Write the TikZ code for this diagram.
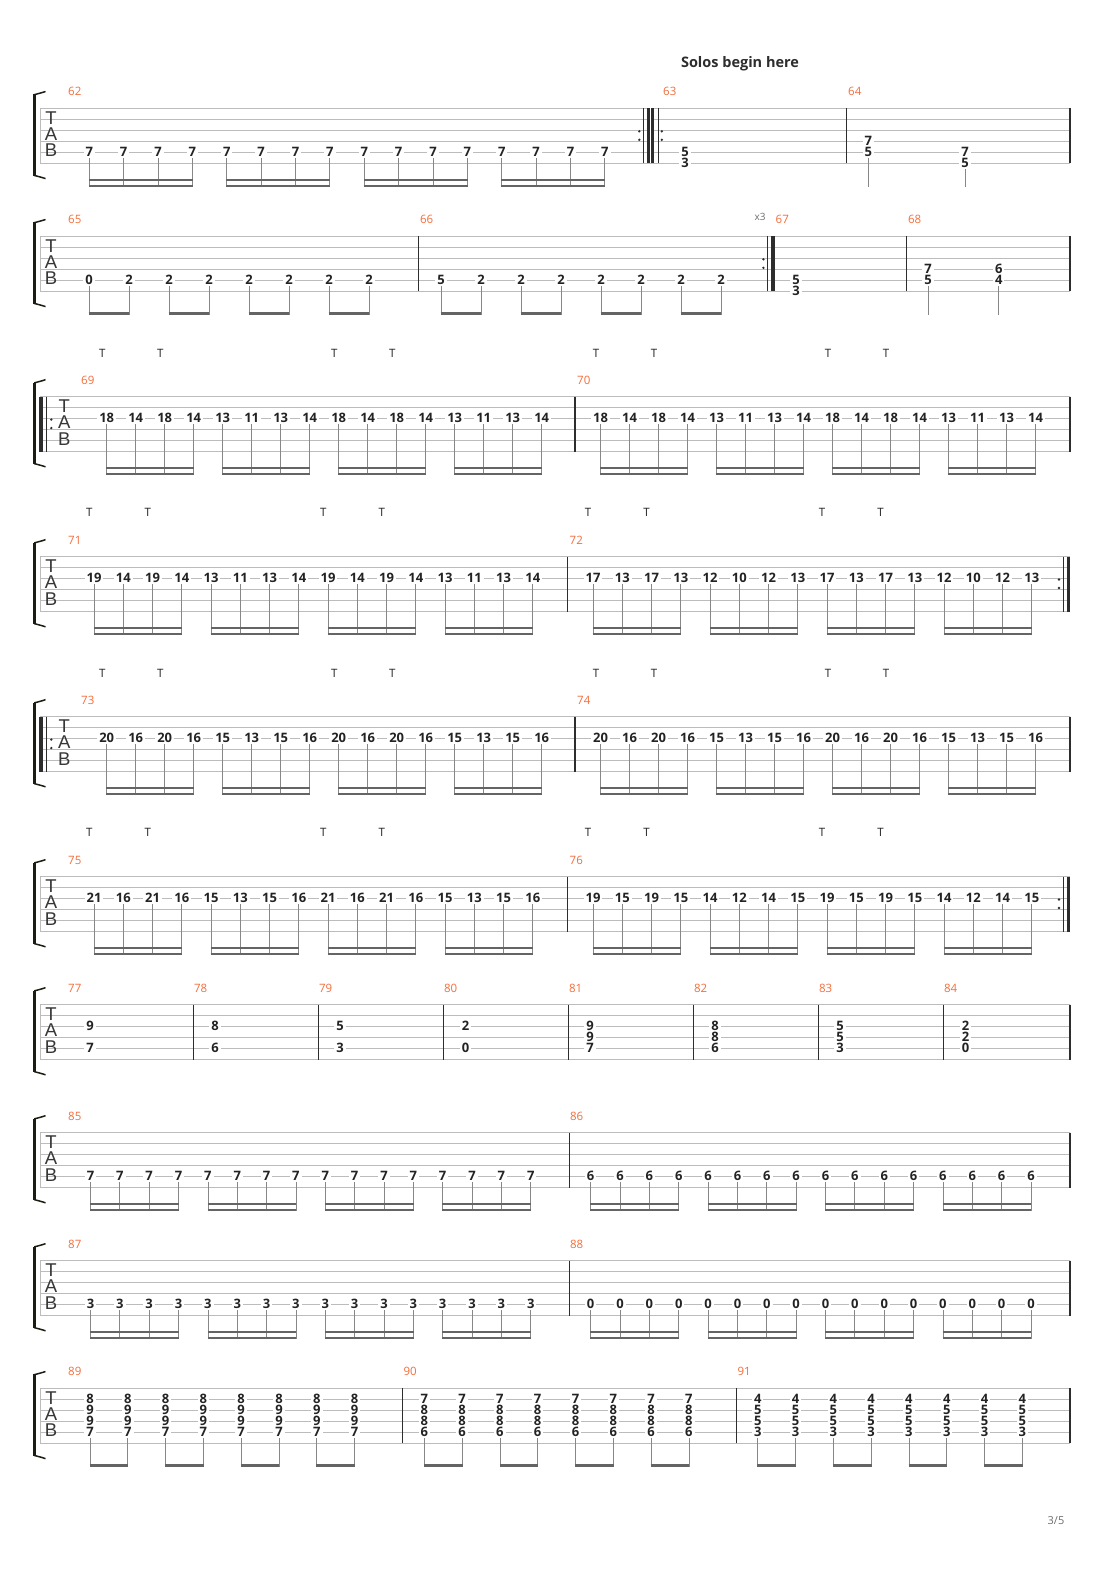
\documentclass[tikz,border=0pt]{standalone}
\usepackage{fontspec}
\setmainfont{Open Sans}
\newfontfamily\tbTabFont{Liberation Sans}
\definecolor{staffcol}{RGB}{188,188,188}
\definecolor{barcol}{RGB}{45,45,45}
\definecolor{stemcol}{RGB}{135,135,135}
\definecolor{beamcol}{RGB}{100,100,100}
\definecolor{fretcol}{RGB}{35,35,35}
\definecolor{numcol}{RGB}{244,110,60}
\definecolor{brkcol}{RGB}{28,28,18}
\definecolor{tabcol}{RGB}{55,55,55}
\definecolor{pgcol}{RGB}{110,110,110}
\tikzset{
  staffline/.style={draw=staffcol, line width=0.9pt},
  barl/.style={draw=barcol, line width=1.1pt},
  thinbar/.style={draw=barcol, line width=0.9pt},
  fret/.style={fill=white, inner xsep=2pt, inner ysep=0pt, text height=9.4pt, text depth=0pt, text=fretcol, font=\fontsize{13}{13}\selectfont\bfseries},
  stemln/.style={draw=stemcol, line width=0.8pt},
  beamln/.style={draw=beamcol, line width=2.4pt},
  mnum/.style={text=numcol, font=\fontsize{11.5}{11.5}\selectfont, inner sep=0pt, anchor=west},
  tabl/.style={text=tabcol, font=\tbTabFont\fontsize{18.5}{18.5}\selectfont, inner sep=0pt},
  tmk/.style={text=fretcol, font=\fontsize{11.5}{11.5}\selectfont, inner sep=0pt},
}
% #1 prefix, #2 top, #3 letter x
\newcommand\tbSystem[3]{%
  \foreach \tbi in {0,...,5}{\draw[staffline] (40,{#2+11*\tbi}) -- (1070,{#2+11*\tbi});}
  \draw[staffline] (40,#2) -- (40,{#2+55});
  \fill[brkcol] (33.4,{#2-14}) rectangle (36.4,{#2+67.5});
  \draw[brkcol, line width=1.5pt] (34.2,{#2-13.6}) .. controls (38,{#2-14.6}) and (42,{#2-15.6}) .. (45.5,{#2-16.8});
  \draw[brkcol, line width=1.5pt] (34.2,{#2+67.1}) .. controls (38,{#2+68.1}) and (42,{#2+69.1}) .. (45.5,{#2+70.3});
  \node[tabl] (#1-T) at (#3,{#2+9.6}) {T};
  \node[tabl] (#1-A) at (#3,{#2+25.8}) {A};
  \node[tabl] (#1-B) at (#3,{#2+42.2}) {B};
}
\newcommand\tbBar[2]{\draw[barl] (#2,#1) -- (#2,{#1+55});}
\newcommand\tbDots[2]{\fill[barcol] (#2,{#1+23}) circle (1.3); \fill[barcol] (#2,{#1+31.5}) circle (1.3);}
\newcommand\tbRepStart[1]{%
  \fill[barcol] (39.3,#1) rectangle (43.3,{#1+55});
  \draw[thinbar] (46.7,#1) -- (46.7,{#1+55});
  \tbDots{#1}{51.3}}
\newcommand\tbRepEnd[2]{%
  \pgfmathsetmacro\tbRa{#2-4.3}\pgfmathsetmacro\tbRb{#2+3.4}\pgfmathsetmacro\tbRc{#2+7}%
  \tbDots{#1}{\tbRa}
  \draw[thinbar] (#2,#1) -- (#2,{#1+55});
  \fill[barcol] (\tbRb,#1) rectangle (\tbRc,{#1+55});}
% sixteenth run: #1 prefix, #2 top, #3 x0, #4 dx, #5 string, #6 values
\newcommand\tbSix[6]{%
  \pgfmathsetmacro\tbLy{#2+11*(#5-1)-0.8}%
  \pgfmathsetmacro\tbBa{#2+71.5}%
  \pgfmathsetmacro\tbBb{#2+77.5}%
  \pgfmathsetmacro\tbSe{#2+78.7}%
  \foreach \tbv [count=\tbk from 0] in {#6}{%
    \node[fret] (#1-\tbk) at ({#3+\tbk*#4},\tbLy) {\tbv};
    \draw[stemln] ([yshift=-1.4pt]#1-\tbk.south) -- (#1-\tbk.south |- 0,\tbSe);
  }%
  \foreach \tbg in {0,...,3}{%
    \pgfmathtruncatemacro\tbga{4*\tbg}%
    \pgfmathtruncatemacro\tbgb{4*\tbg+3}%
    \draw[beamln] ([xshift=-0.4pt]#1-\tbga.south |- 0,\tbBa) -- ([xshift=0.4pt]#1-\tbgb.south |- 0,\tbBa);
    \draw[beamln] ([xshift=-0.4pt]#1-\tbga.south |- 0,\tbBb) -- ([xshift=0.4pt]#1-\tbgb.south |- 0,\tbBb);
  }%
}
% eighth run
\newcommand\tbEight[6]{%
  \pgfmathsetmacro\tbLy{#2+11*(#5-1)-0.8}%
  \pgfmathsetmacro\tbBb{#2+77.2}%
  \pgfmathsetmacro\tbSe{#2+78.4}%
  \foreach \tbv [count=\tbk from 0] in {#6}{%
    \node[fret] (#1-\tbk) at ({#3+\tbk*#4},\tbLy) {\tbv};
    \draw[stemln] ([yshift=-1.4pt]#1-\tbk.south) -- (#1-\tbk.south |- 0,\tbSe);
  }%
  \foreach \tbg in {0,...,3}{%
    \pgfmathtruncatemacro\tbga{2*\tbg}%
    \pgfmathtruncatemacro\tbgb{2*\tbg+1}%
    \draw[beamln] ([xshift=-0.4pt]#1-\tbga.south |- 0,\tbBb) -- ([xshift=0.4pt]#1-\tbgb.south |- 0,\tbBb);
  }%
}
% eighth chords on strings 2-5
\newcommand\tbChords[8]{%
  \pgfmathsetmacro\tbBb{#2+77.2}%
  \pgfmathsetmacro\tbSe{#2+78.4}%
  \foreach \tbk in {0,...,7}{%
    \pgfmathsetmacro\tbx{#3+\tbk*#4}%
    \node[fret] (#1-\tbk-2) at (\tbx,{#2+10.5}) {#5};
    \node[fret] (#1-\tbk-3) at (\tbx,{#2+21.5}) {#6};
    \node[fret] (#1-\tbk-4) at (\tbx,{#2+32.5}) {#7};
    \node[fret] (#1-\tbk-5) at (\tbx,{#2+43.5}) {#8};
    \draw[stemln] ([yshift=-1.4pt]#1-\tbk-5.south) -- (#1-\tbk-5.south |- 0,\tbSe);
  }%
  \foreach \tbg in {0,...,3}{%
    \pgfmathtruncatemacro\tbga{2*\tbg}%
    \pgfmathtruncatemacro\tbgb{2*\tbg+1}%
    \draw[beamln] ([xshift=-0.4pt]#1-\tbga-5.south |- 0,\tbBb) -- ([xshift=0.4pt]#1-\tbgb-5.south |- 0,\tbBb);
  }%
}
\newcommand\tbTs[3]{\foreach \tbx [count=\tbc] in {#3}{\node[tmk] (#1-\tbc) at (\tbx,#2) {T};}}
\begin{document}
\begin{tikzpicture}[x=1pt,y=-1pt]
\useasboundingbox (0,0) rectangle (1110,1570);
\fill[white] (0,0) rectangle (1110,1570);

\node[font=\fontsize{14.5}{14.5}\selectfont\bfseries, text=barcol, anchor=base, inner sep=0pt] (solo) at (740,67.3) {Solos begin here};

% ===== System 1 (62-64), top 108.3
\tbSystem{s1}{108.3}{51}
\draw[thinbar] (643.3,108.3) -- (643.3,163.3);
\fill[barcol] (646.5,108.3) rectangle (654.2,163.3);
\draw[white, line width=0.4pt] (650.35,108.3) -- (650.35,163.3);
\draw[thinbar] (658.3,108.3) -- (658.3,163.3);
\tbDots{108.3}{639.3}
\tbDots{108.3}{661.8}
\tbBar{108.3}{846.7}
\tbBar{108.3}{1070}
\node[mnum] (mn62) at (68,91.8) {62};
\node[mnum] (mn63) at (663,91.8) {63};
\node[mnum] (mn64) at (848,91.8) {64};
\tbSix{m62}{108.3}{89.3}{34.37}{5}{7,7,7,7,7,7,7,7,7,7,7,7,7,7,7,7}
\node[fret] (m63a) at (685,151.5) {5};
\node[fret] (m63b) at (685,162.5) {3};
\node[fret] (m64a) at (868.3,140.5) {7};
\node[fret] (m64b) at (868.3,151.5) {5};
\node[fret] (m64c) at (965,151.5) {7};
\node[fret] (m64d) at (965,162.5) {5};
\draw[stemln] ([yshift=-1.4pt]m64b.south) -- (m64b.south |- 0,187);
\draw[stemln] ([yshift=-1.4pt]m64d.south) -- (m64d.south |- 0,187);

% ===== System 2 (65-68), top 236.3
\tbSystem{s2}{236.3}{51}
\tbBar{236.3}{418.5}
\tbRepEnd{236.3}{767.7}
\tbBar{236.3}{906.7}
\tbBar{236.3}{1070}
\node[mnum] (mn65) at (68,219.8) {65};
\node[mnum] (mn66) at (419.8,219.8) {66};
\node[mnum] (mn67) at (775.5,219.8) {67};
\node[mnum] (mn68) at (907.8,219.8) {68};
\node[text=pgcol, font=\fontsize{10}{10}\selectfont, inner sep=0pt] (x3) at (760,217) {x3};
\tbEight{m65}{236.3}{89}{40}{5}{0,2,2,2,2,2,2,2}
\tbEight{m66}{236.3}{441}{40}{5}{5,2,2,2,2,2,2,2}
\node[fret] (m67a) at (796,279.5) {5};
\node[fret] (m67b) at (796,290.5) {3};
\node[fret] (m68a) at (928,268.5) {7};
\node[fret] (m68b) at (928,279.5) {5};
\node[fret] (m68c) at (998.7,268.5) {6};
\node[fret] (m68d) at (998.7,279.5) {4};
\draw[stemln] ([yshift=-1.4pt]m68b.south) -- (m68b.south |- 0,315);
\draw[stemln] ([yshift=-1.4pt]m68d.south) -- (m68d.south |- 0,315);

% ===== System 3 (69-70), top 396.5
\tbSystem{s3}{396.5}{64.3}
\tbRepStart{396.5}
\tbBar{396.5}{575}
\tbBar{396.5}{1070}
\node[mnum] (mn69) at (81,380) {69};
\node[mnum] (mn70) at (577,380) {70};
\tbTs{t3}{353}{102.2,160.2,334.2,392.2,596,654,828,886}
\tbSix{m69}{396.5}{106.7}{29}{3}{18,14,18,14,13,11,13,14,18,14,18,14,13,11,13,14}
\tbSix{m70}{396.5}{600.5}{29}{3}{18,14,18,14,13,11,13,14,18,14,18,14,13,11,13,14}

% ===== System 4 (71-72), top 556.5
\tbSystem{s4}{556.5}{51}
\tbBar{556.5}{567.5}
\tbRepEnd{556.5}{1063.3}
\node[mnum] (mn71) at (68,540) {71};
\node[mnum] (mn72) at (569.5,540) {72};
\tbTs{t4}{512.5}{89.3,147.8,323.3,381.8,588,646.5,822,880.5}
\tbSix{m71}{556.5}{94}{29.25}{3}{19,14,19,14,13,11,13,14,19,14,19,14,13,11,13,14}
\tbSix{m72}{556.5}{593}{29.25}{3}{17,13,17,13,12,10,12,13,17,13,17,13,12,10,12,13}

% ===== System 5 (73-74), top 716.5
\tbSystem{s5}{716.5}{64.3}
\tbRepStart{716.5}
\tbBar{716.5}{575}
\tbBar{716.5}{1070}
\node[mnum] (mn73) at (81,700) {73};
\node[mnum] (mn74) at (577,700) {74};
\tbTs{t5}{673}{102.2,160.2,334.2,392.2,596,654,828,886}
\tbSix{m73}{716.5}{106.7}{29}{3}{20,16,20,16,15,13,15,16,20,16,20,16,15,13,15,16}
\tbSix{m74}{716.5}{600.5}{29}{3}{20,16,20,16,15,13,15,16,20,16,20,16,15,13,15,16}

% ===== System 6 (75-76), top 876.5
\tbSystem{s6}{876.5}{51}
\tbBar{876.5}{567.5}
\tbRepEnd{876.5}{1063.3}
\node[mnum] (mn75) at (68,860) {75};
\node[mnum] (mn76) at (569.5,860) {76};
\tbTs{t6}{832.5}{89.3,147.8,323.3,381.8,588,646.5,822,880.5}
\tbSix{m75}{876.5}{94}{29.25}{3}{21,16,21,16,15,13,15,16,21,16,21,16,15,13,15,16}
\tbSix{m76}{876.5}{593}{29.25}{3}{19,15,19,15,14,12,14,15,19,15,19,15,14,12,14,15}

% ===== System 7 (77-84), top 1004.5
\tbSystem{s7}{1004.5}{51}
\foreach \bx in {193.3,318.3,443.3,568.3,693.3,818.3,943.3,1070}{\tbBar{1004.5}{\bx}}
\node[mnum] (mn77) at (68,988) {77};
\node[mnum] (mn78) at (193.8,988) {78};
\node[mnum] (mn79) at (318.8,988) {79};
\node[mnum] (mn80) at (443.8,988) {80};
\node[mnum] (mn81) at (568.8,988) {81};
\node[mnum] (mn82) at (693.8,988) {82};
\node[mnum] (mn83) at (818.8,988) {83};
\node[mnum] (mn84) at (943.8,988) {84};
\node[fret] (m77a) at (90,1025.7) {9};
\node[fret] (m77b) at (90,1047.7) {7};
\node[fret] (m78a) at (215,1025.7) {8};
\node[fret] (m78b) at (215,1047.7) {6};
\node[fret] (m79a) at (340,1025.7) {5};
\node[fret] (m79b) at (340,1047.7) {3};
\node[fret] (m80a) at (465.5,1025.7) {2};
\node[fret] (m80b) at (465.5,1047.7) {0};
\node[fret] (m81a) at (590,1025.7) {9};
\node[fret] (m81b) at (590,1036.7) {9};
\node[fret] (m81c) at (590,1047.7) {7};
\node[fret] (m82a) at (715,1025.7) {8};
\node[fret] (m82b) at (715,1036.7) {8};
\node[fret] (m82c) at (715,1047.7) {6};
\node[fret] (m83a) at (840,1025.7) {5};
\node[fret] (m83b) at (840,1036.7) {5};
\node[fret] (m83c) at (840,1047.7) {3};
\node[fret] (m84a) at (965.5,1025.7) {2};
\node[fret] (m84b) at (965.5,1036.7) {2};
\node[fret] (m84c) at (965.5,1047.7) {0};

% ===== System 8 (85-86), top 1132.5
\tbSystem{s8}{1132.5}{51}
\tbBar{1132.5}{569.3}
\tbBar{1132.5}{1070}
\node[mnum] (mn85) at (68,1116) {85};
\node[mnum] (mn86) at (569.8,1116) {86};
\tbSix{m85}{1132.5}{90.5}{29.35}{5}{7,7,7,7,7,7,7,7,7,7,7,7,7,7,7,7}
\tbSix{m86}{1132.5}{590.7}{29.35}{5}{6,6,6,6,6,6,6,6,6,6,6,6,6,6,6,6}

% ===== System 9 (87-88), top 1260.5
\tbSystem{s9}{1260.5}{51}
\tbBar{1260.5}{569.3}
\tbBar{1260.5}{1070}
\node[mnum] (mn87) at (68,1244) {87};
\node[mnum] (mn88) at (569.8,1244) {88};
\tbSix{m87}{1260.5}{90.5}{29.35}{5}{3,3,3,3,3,3,3,3,3,3,3,3,3,3,3,3}
\tbSix{m88}{1260.5}{590.7}{29.35}{5}{0,0,0,0,0,0,0,0,0,0,0,0,0,0,0,0}

% ===== System 10 (89-91), top 1388.3
\tbSystem{s10}{1388.3}{51}
\tbBar{1388.3}{402.7}
\tbBar{1388.3}{736.7}
\tbBar{1388.3}{1070}
\node[mnum] (mn89) at (68,1371.8) {89};
\node[mnum] (mn90) at (403.3,1371.8) {90};
\node[mnum] (mn91) at (737.3,1371.8) {91};
\tbChords{m89}{1388.3}{90}{37.8}{8}{9}{9}{7}
\tbChords{m90}{1388.3}{424.3}{37.8}{7}{8}{8}{6}
\tbChords{m91}{1388.3}{757.7}{37.8}{4}{5}{5}{3}

\node[text=pgcol, font=\fontsize{11}{11}\selectfont, inner sep=0pt] (pg) at (1056,1520.5) {3/5};
\end{tikzpicture}
\end{document}
